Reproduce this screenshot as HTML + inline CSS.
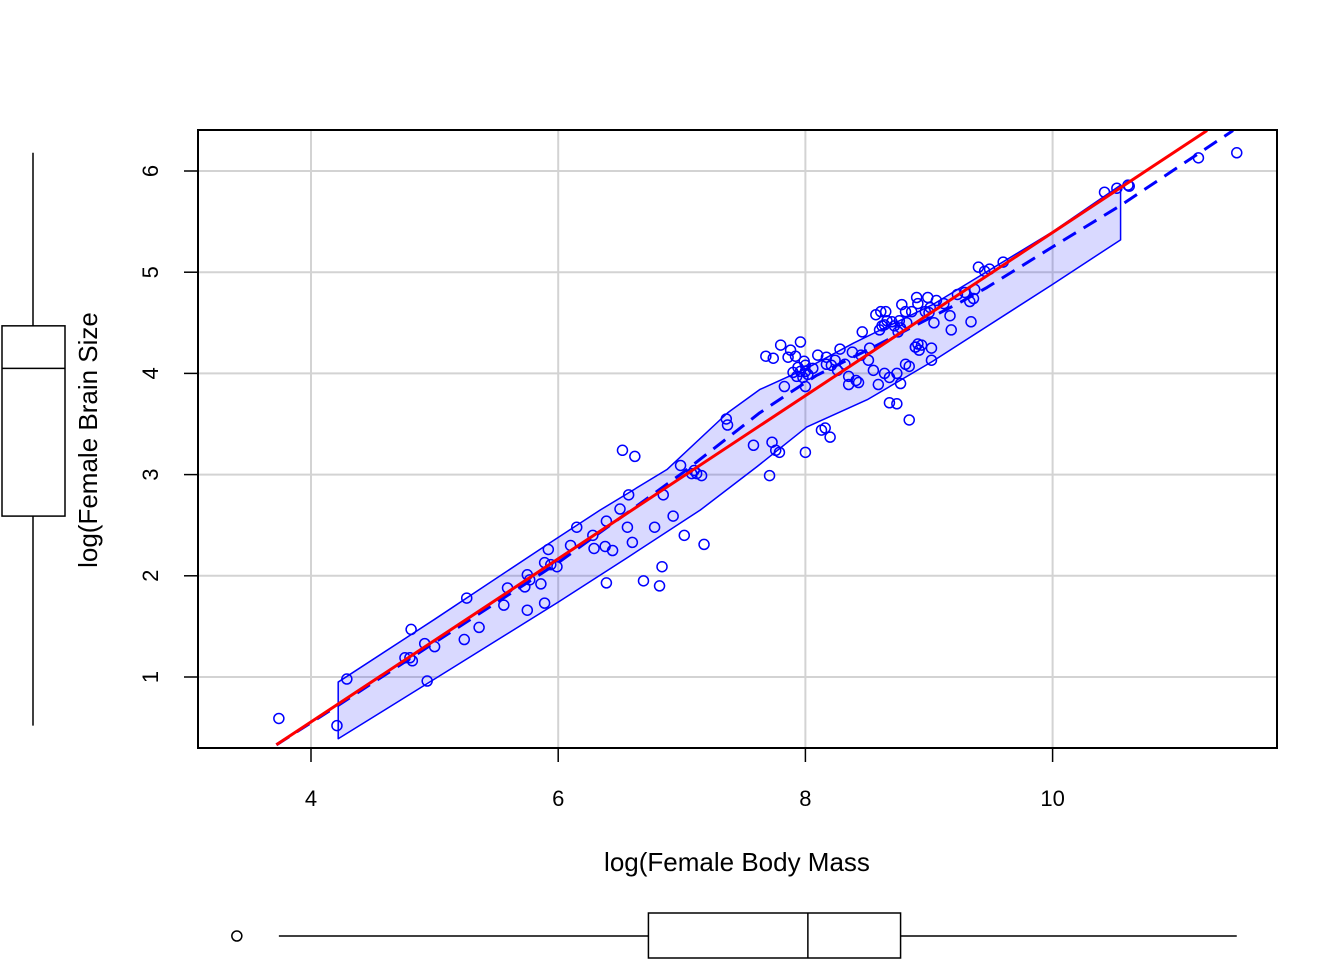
<!DOCTYPE html>
<html><head><meta charset="utf-8"><style>
html,body{margin:0;padding:0;background:#fff;}
svg text{font-family:"Liberation Sans",Arial,sans-serif;fill:#000;}
</style></head><body>
<svg id="c" width="1344" height="960" xmlns="http://www.w3.org/2000/svg"></svg>
<script>
const xs=[3.74,4.21,4.29,4.80,4.76,4.82,4.81,4.92,4.94,5.00,5.24,5.26,5.36,5.56,5.59,5.75,5.73,5.75,5.77,5.86,5.89,5.89,5.92,5.94,5.99,6.10,6.15,6.28,6.29,6.38,6.39,6.39,6.44,6.50,6.52,6.56,6.57,6.60,6.62,6.69,6.78,6.82,6.84,6.85,6.93,6.99,7.02,7.08,7.10,7.12,7.18,7.16,7.36,7.37,7.58,7.68,7.74,7.71,7.73,7.76,7.79,7.80,7.83,7.86,7.88,7.92,7.90,7.94,7.93,7.96,7.98,7.96,7.99,8.00,8.00,8.02,8.00,8.00,8.06,8.10,8.13,8.16,8.17,8.20,8.17,8.21,8.24,8.28,8.26,8.32,8.35,8.35,8.38,8.41,8.43,8.45,8.46,8.51,8.52,8.55,8.57,8.59,8.60,8.61,8.62,8.64,8.64,8.65,8.66,8.68,8.68,8.70,8.72,8.74,8.74,8.75,8.76,8.77,8.77,8.78,8.81,8.81,8.82,8.84,8.84,8.86,8.89,8.89,8.90,8.91,8.91,8.92,8.94,8.97,8.99,9.00,9.01,9.02,9.02,9.04,9.06,9.12,9.17,9.18,9.23,9.29,9.33,9.34,9.36,9.37,9.40,9.45,9.49,9.60,10.42,10.52,10.61,10.62,11.18,11.49];
const ys=[0.59,0.52,0.98,1.19,1.19,1.16,1.47,1.33,0.96,1.30,1.37,1.78,1.49,1.71,1.88,1.66,1.89,2.01,1.96,1.92,2.13,1.73,2.26,2.11,2.09,2.30,2.48,2.40,2.27,2.29,1.93,2.54,2.25,2.66,3.24,2.48,2.80,2.33,3.18,1.95,2.48,1.90,2.09,2.80,2.59,3.09,2.40,3.01,3.04,3.01,2.31,2.99,3.55,3.49,3.29,4.17,4.15,2.99,3.32,3.24,3.22,4.28,3.87,4.16,4.23,4.17,4.01,4.06,3.97,4.02,3.96,4.31,4.12,4.08,4.02,3.99,3.87,3.22,4.05,4.18,3.44,3.46,4.16,3.37,4.09,4.08,4.13,4.24,4.03,4.09,3.97,3.89,4.21,3.93,3.91,4.18,4.41,4.13,4.25,4.03,4.58,3.89,4.43,4.61,4.47,4.48,4.00,4.61,4.52,3.96,3.71,4.51,4.47,3.70,4.00,4.41,4.52,4.45,3.90,4.68,4.61,4.09,4.50,4.07,3.54,4.61,4.26,4.26,4.75,4.69,4.29,4.23,4.28,4.61,4.75,4.60,4.65,4.13,4.25,4.50,4.72,4.69,4.57,4.43,4.78,4.80,4.71,4.51,4.74,4.83,5.05,5.01,5.03,5.10,5.79,5.83,5.86,5.85,6.13,6.18];
const bandUpperX=[4.22,5,5.9,6.34,6.88,7.37,7.63,8.01,8.39,9.03,10,10.55];
const bandUpper=[0.95,1.57,2.30,2.65,3.05,3.61,3.84,4.05,4.30,4.68,5.40,5.86];
const bandLowerX=[4.22,5,6,6.56,7.15,7.61,8.01,8.5,9.03,10,10.55];
const bandLower=[0.39,0.98,1.74,2.18,2.65,3.08,3.47,3.74,4.12,4.88,5.32];
const loessX=[3.72,4.22,5,6,7.01,7.63,7.85,8.09,8.55,9.25,9.47,10,10.55,11.46];
const loessY=[0.33,0.72,1.34,2.13,3.02,3.61,3.79,3.98,4.26,4.70,4.85,5.25,5.66,6.4];
const fitX=[3.72,11.25];
const fitY=[0.33,6.40];
const xTicks=[4,6,8,10];
const yTicks=[1,2,3,4,5,6];
const yBox=[0.52,2.59,4.05,4.47,6.18];
const xBox=[3.74,6.73,8.02,8.77,11.49];
const xOutliers=[3.40];

const X=v=>311+(v-4)*123.6, Y=v=>677-(v-1)*101.2;
const svg=document.getElementById('c'),NS='http://www.w3.org/2000/svg';
function mk(t,a,p){const e=document.createElementNS(NS,t);for(const k in a)e.setAttribute(k,a[k]);(p||svg).appendChild(e);return e;}
for(const t of xTicks){const l=mk('line',{x1:X(t),x2:X(t),y1:130,y2:748,stroke:'#d3d3d3','stroke-width':2});

}
for(const t of yTicks){const l=mk('line',{x1:198,x2:1277,y1:Y(t),y2:Y(t),stroke:'#d3d3d3','stroke-width':2});

}
let pts=bandUpperX.map((x,i)=>X(x)+','+Y(bandUpper[i]));
for(let i=bandLowerX.length-1;i>=0;i--)pts.push(X(bandLowerX[i])+','+Y(bandLower[i]));
const band=mk('polygon',{points:pts.join(' '),fill:'rgba(0,0,255,0.15)',stroke:'#0000ff','stroke-width':1.5,'stroke-linejoin':'round'});


for(let i=0;i<xs.length;i++){const c=mk('circle',{cx:X(xs[i]),cy:Y(ys[i]),r:5,fill:'none',stroke:'#0000ff','stroke-width':1.5});

}
const lo=mk('polyline',{points:loessX.map((x,i)=>X(x)+','+Y(loessY[i])).join(' '),fill:'none',stroke:'#0000ff','stroke-width':3,'stroke-dasharray':'15,9','stroke-linejoin':'round'});


const fit=mk('polyline',{points:fitX.map((x,i)=>X(x)+','+Y(fitY[i])).join(' '),fill:'none',stroke:'#ff0000','stroke-width':3});


const fr=mk('rect',{x:198,y:130,width:1079,height:618,fill:'none',stroke:'#000','stroke-width':2});


for(const t of xTicks){mk('line',{x1:X(t),x2:X(t),y1:748,y2:762,stroke:'#000','stroke-width':1.5});
const tx=mk('text',{x:X(t),y:806,'font-size':22,'text-anchor':'middle'});tx.textContent=t;

}
for(const t of yTicks){mk('line',{x1:184,x2:198,y1:Y(t),y2:Y(t),stroke:'#000','stroke-width':1.5});
const tx=mk('text',{x:0,y:0,'font-size':22,'text-anchor':'middle',transform:`translate(158,${Y(t)}) rotate(-90)`});tx.textContent=t;

}
const xt=mk('text',{x:737,y:871,'font-size':26,'text-anchor':'middle'});xt.textContent='log(Female Body Mass';


const yt=mk('text',{x:0,y:0,'font-size':26,'text-anchor':'middle',transform:'translate(97,440) rotate(-90)'});yt.textContent='log(Female Brain Size';


const gl=mk('g',{});


mk('line',{x1:33,x2:33,y1:Y(yBox[0]),y2:Y(yBox[1]),stroke:'#000','stroke-width':1.5},gl);
mk('line',{x1:33,x2:33,y1:Y(yBox[3]),y2:Y(yBox[4]),stroke:'#000','stroke-width':1.5},gl);
mk('rect',{x:2,y:Y(yBox[3]),width:63,height:Y(yBox[1])-Y(yBox[3]),fill:'none',stroke:'#000','stroke-width':1.5},gl);
mk('line',{x1:2,x2:65,y1:Y(yBox[2]),y2:Y(yBox[2]),stroke:'#000','stroke-width':1.5},gl);
const gb=mk('g',{});


mk('line',{x1:X(xBox[0]),x2:X(xBox[1]),y1:936,y2:936,stroke:'#000','stroke-width':1.5},gb);
mk('line',{x1:X(xBox[3]),x2:X(xBox[4]),y1:936,y2:936,stroke:'#000','stroke-width':1.5},gb);
mk('rect',{x:X(xBox[1]),y:913,width:X(xBox[3])-X(xBox[1]),height:45,fill:'none',stroke:'#000','stroke-width':1.5},gb);
mk('line',{x1:X(xBox[2]),x2:X(xBox[2]),y1:913,y2:958,stroke:'#000','stroke-width':1.5},gb);
for(const o of xOutliers){const c=mk('circle',{cx:X(o),cy:936,r:5,fill:'none',stroke:'#000','stroke-width':1.5},gb);

}
</script>
</body></html>
